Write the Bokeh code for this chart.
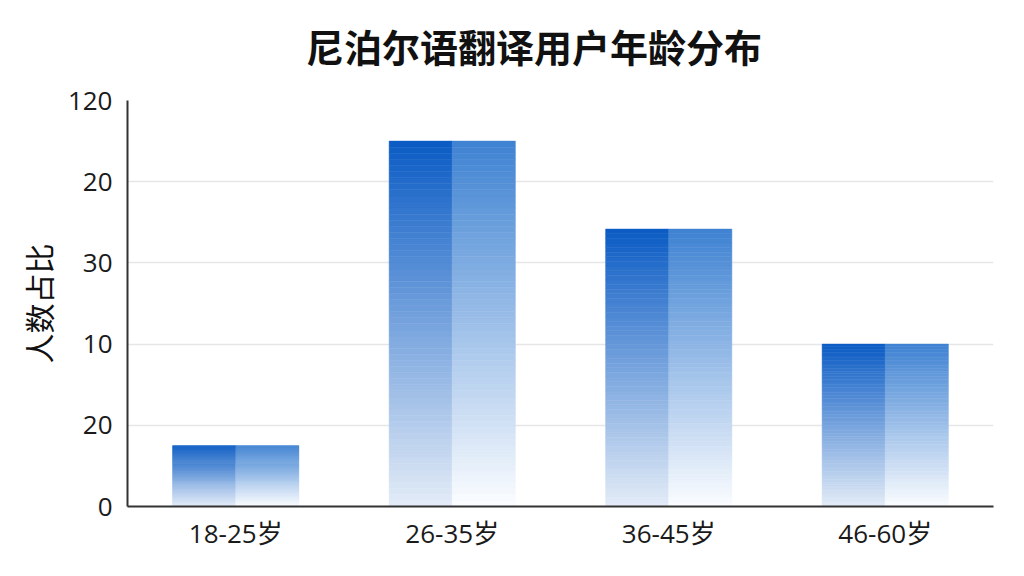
from bokeh.plotting import figure
from bokeh.models import FactorRange, FixedTicker, ColumnDataSource, Div
from bokeh.layouts import column
from bokeh.transform import dodge
from bokeh.embed import file_html
from bokeh.resources import INLINE

# ---- data ----
categories = ["18-25岁", "26-35岁", "36-45岁", "46-60岁"]
values = [18, 108, 82, 48]
tick_values = [0, 24, 48, 72, 96, 120]
tick_labels = ["0", "20", "10", "30", "20", "120"]
title_text = "尼泊尔语翻译用户年龄分布"
y_label = "人数占比"

# gradient colours (top -> bottom) for left and right halves
left_top, left_bottom = (10, 91, 196), (228, 236, 247)
right_top, right_bottom = (62, 130, 210), (252, 253, 255)

CJK = "Noto Sans CJK SC"
TICKFONT = "'Open Sans', 'Noto Sans CJK SC'"

title_div = Div(text=title_text, width=1016, height=67,
                styles={"font-family": CJK, "font-size": "38px", "font-weight": "bold",
                        "color": "#111111", "line-height": "46px", "padding-top": "18px",
                        "text-indent": "301px", "white-space": "nowrap"})

p = figure(x_range=FactorRange(*categories, range_padding=0), y_range=(0, 120),
           width=1016, height=490, output_backend="svg", toolbar_location=None,
           min_border_left=127, min_border_right=23, min_border_top=23, min_border_bottom=61)

N = 60
def mix(a, b, t):
    return "#%02x%02x%02x" % tuple(int(round(a[i] + (b[i] - a[i]) * t)) for i in range(3))

xs, bots, tops, lc, rc = [], [], [], [], []
for cat, v in zip(categories, values):
    for i in range(N):
        b = v * i / N
        t = v * (i + 1) / N
        frac = 1 - (i + 0.5) / N  # 0 at top, 1 at bottom
        xs.append(cat); bots.append(b); tops.append(t)
        lc.append(mix(left_top, left_bottom, frac))
        rc.append(mix(right_top, right_bottom, frac))

src = ColumnDataSource(dict(x=xs, bottom=bots, top=tops, lc=lc, rc=rc))
p.vbar(x=dodge("x", -0.1455, range=p.x_range), width=0.292, bottom="bottom", top="top",
       source=src, fill_color="lc", line_color="lc", line_width=0.5)
p.vbar(x=dodge("x", 0.1455, range=p.x_range), width=0.292, bottom="bottom", top="top",
       source=src, fill_color="rc", line_color="rc", line_width=0.5)

p.outline_line_color = None
p.xgrid.grid_line_color = None
p.ygrid.grid_line_color = "#e6e6e6"
p.ygrid.grid_line_width = 1.5

p.yaxis.ticker = FixedTicker(ticks=tick_values)
p.yaxis.major_label_overrides = {tv: lab for tv, lab in zip(tick_values, tick_labels)}
for ax in (p.xaxis[0], p.yaxis[0]):
    ax.axis_line_color = "#333333"
    ax.axis_line_width = 2
    ax.major_tick_line_color = None
    ax.minor_tick_line_color = None
    ax.major_label_text_font = TICKFONT
    ax.major_label_text_font_size = "26px"
    ax.major_label_text_color = "#1a1a1a"

p.yaxis.major_label_standoff = 9
p.xaxis.major_label_standoff = 2
p.yaxis.axis_label = y_label
p.yaxis.axis_label_text_font = CJK
p.yaxis.axis_label_text_font_size = "30px"
p.yaxis.axis_label_text_font_style = "normal"
p.yaxis.axis_label_text_color = "#111111"
p.yaxis.axis_label_standoff = 5

layout = column(title_div, p, spacing=0)
open("out.html", "w").write(file_html(layout, INLINE))
